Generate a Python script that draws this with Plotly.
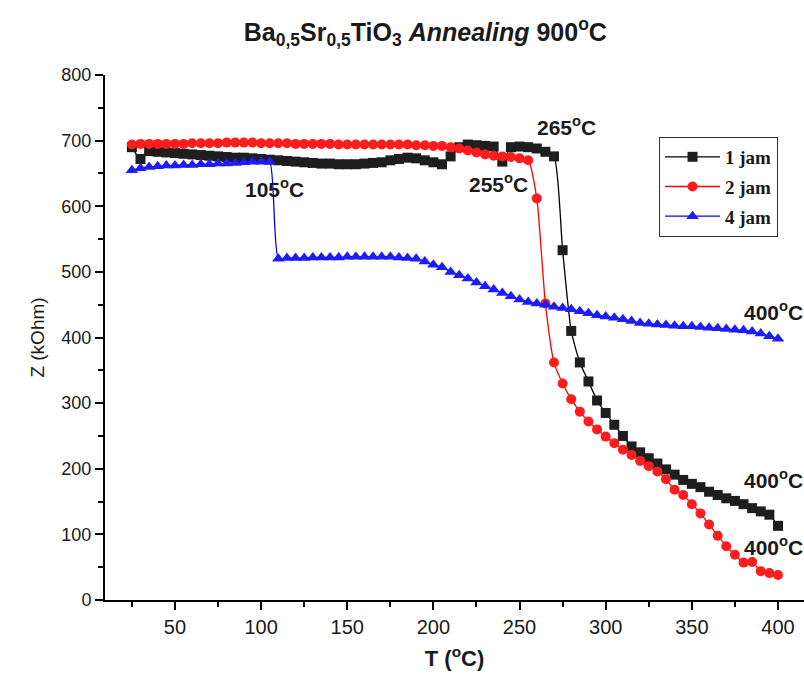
import plotly.graph_objects as go

# Temperature steps (°C)
temps = list(range(25, 405, 5))

# Impedance Z (kOhm) for each holding time
z_1jam = [690, 672, 684, 683, 682, 681, 680, 679, 678, 677,
          676, 675, 674, 674, 673, 672, 671, 670, 669, 668,
          667, 666, 665, 665, 664, 664, 664, 665, 666, 667,
          670, 672, 674, 673, 670, 667, 664, 676, 690, 694,
          693, 692, 691, 668, 690, 691, 690, 688, 683, 676,
          533, 410, 362, 333, 304, 285, 267, 250, 234, 225,
          216, 208, 199, 191, 183, 177, 172, 165, 160, 155,
          151, 146, 140, 135, 130, 113]

z_2jam = [694, 695, 695, 695, 695, 695, 695, 696, 696, 696,
          696, 697, 697, 697, 697, 696, 696, 696, 696, 695,
          695, 695, 695, 695, 694, 694, 694, 694, 694, 694,
          694, 694, 694, 693, 693, 692, 692, 690, 688, 685,
          682, 679, 677, 676, 675, 673, 670, 612, 452, 362,
          330, 306, 287, 272, 260, 249, 239, 229, 221, 212,
          204, 196, 184, 168, 160, 146, 132, 115, 98, 82,
          69, 57, 58, 44, 41, 38]

z_4jam = [655, 658, 660, 661, 662, 662, 663, 663, 664, 664,
          665, 665, 666, 667, 668, 668, 668, 520, 521, 521,
          521, 522, 522, 522, 522, 523, 523, 523, 523, 523,
          523, 522, 521, 520, 516, 511, 507, 500, 495, 490,
          484, 478, 473, 468, 463, 458, 454, 452, 450, 447,
          445, 443, 440, 437, 434, 432, 430, 428, 425, 422,
          421, 420, 419, 418, 417, 417, 416, 415, 414, 413,
          412, 411, 409, 406, 402, 398]

assert len(temps) == len(z_1jam) == len(z_2jam) == len(z_4jam)

series_names = ["1 jam", "2 jam", "4 jam"]
series_colors = ["#000000", "#ff0000", "#0000ff"]
marker_colors = ["#1e1e1e", "#ff1c1c", "#1c1cff"]
marker_symbols = ["square", "circle", "triangle-up"]
marker_sizes = [10, 10, 11]

# Transition labels: (x, y, text)
label_texts = ["105<sup>o</sup>C", "255<sup>o</sup>C", "265<sup>o</sup>C",
               "400<sup>o</sup>C", "400<sup>o</sup>C", "400<sup>o</sup>C"]
label_x = [89.5, 219.5, 259, 379, 379, 379]
label_y = [628, 636, 722, 440, 185, 82]

x_ticks = [50, 100, 150, 200, 250, 300, 350, 400]
y_ticks = [0, 100, 200, 300, 400, 500, 600, 700, 800]

fig = go.Figure()
for name, ys, lc, mc, sym, sz in zip(series_names, [z_1jam, z_2jam, z_4jam],
                                     series_colors, marker_colors,
                                     marker_symbols, marker_sizes):
    fig.add_trace(go.Scatter(
        x=temps, y=ys, name=name, mode="lines+markers",
        line=dict(color=lc, width=1.3, shape="spline", smoothing=0.6),
        marker=dict(symbol=sym, size=sz, color=mc, line=dict(width=0)),
        legendgroup=name, cliponaxis=False,
    ))

for t, x, y in zip(label_texts, label_x, label_y):
    fig.add_annotation(x=x, y=y, text=t, showarrow=False, xanchor="left",
                       yanchor="middle",
                       font=dict(family="Liberation Sans, Arial", size=21,
                                 color="#1a1a1a", weight="bold"))

axis_common = dict(showline=True, linecolor="#000000", linewidth=2,
                   ticks="outside", tickcolor="#000000", tickwidth=2,
                   ticklen=8, showgrid=False, zeroline=False, mirror=False)

fig.update_xaxes(range=[9.4, 415.1], tickvals=x_ticks,
                 tickfont=dict(family="Liberation Sans, Arial", size=20,
                               color="#1a1a1a"),
                 minor=dict(dtick=25, tick0=0, ticks="outside", ticklen=5,
                            tickwidth=2, tickcolor="#000000"),
                 title=dict(text="T (<sup>o</sup>C)", standoff=14,
                            font=dict(family="Liberation Sans, Arial", size=22,
                                      color="#1a1a1a", weight="bold")),
                 **axis_common)
fig.update_yaxes(range=[0, 800], tickvals=y_ticks,
                 tickfont=dict(family="Liberation Sans, Arial", size=18,
                               color="#1a1a1a"),
                 minor=dict(dtick=50, tick0=0, ticks="outside", ticklen=5,
                            tickwidth=2, tickcolor="#000000"),
                 title=dict(text="Z (kOhm)", standoff=12,
                            font=dict(family="Liberation Sans, Arial", size=19,
                                      color="#1a1a1a")),
                 **axis_common)

fig.update_layout(
    width=804, height=682,
    margin=dict(l=105, r=0, t=75, b=82),
    paper_bgcolor="#ffffff", plot_bgcolor="#ffffff",
    title=dict(text="Ba<sub>0,5</sub>Sr<sub>0,5</sub>TiO<sub>3</sub> "
                    "<i>Annealing</i> 900<sup>o</sup>C",
               x=0.529, xanchor="center", y=0.953, yanchor="middle",
               font=dict(family="Liberation Sans, Arial", size=25,
                         color="#1a1a1a", weight="bold")),
    legend=dict(x=0.7926, y=0.882, xanchor="left", yanchor="top",
                bgcolor="#ffffff", bordercolor="#333333", borderwidth=1,
                tracegroupgap=2, itemwidth=55,
                font=dict(family="Liberation Serif, Times New Roman", size=19,
                          color="#1a1a1a", weight="bold")),
    showlegend=True,
)

fig.write_html("out.html")
